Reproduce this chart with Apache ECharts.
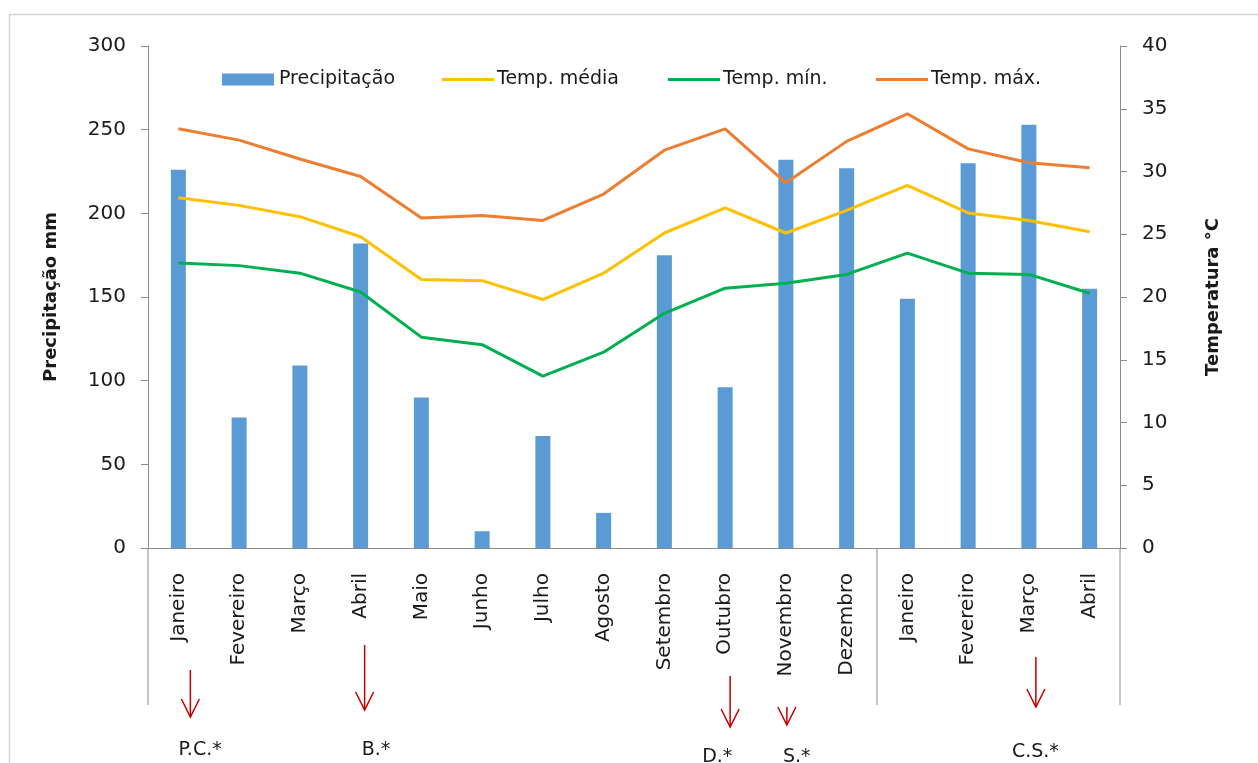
<!DOCTYPE html>
<html><head><meta charset="utf-8">
<script src="https://cdn.jsdelivr.net/npm/echarts@6/dist/echarts.min.js"></script>
<style>html,body{margin:0;padding:0;background:#fff}#c{width:1258px;height:763px}</style>
</head><body><div id="c"></div>
<script>
const categories = ['Janeiro','Fevereiro','Março','Abril','Maio','Junho','Julho','Agosto','Setembro','Outubro','Novembro','Dezembro','Janeiro','Fevereiro','Março','Abril'];
const precipitacao = [226, 78, 109, 182, 90, 10, 67, 21, 175, 96, 232, 227, 149, 230, 253, 155];
const tempMedia = [27.9, 27.3, 26.4, 24.8, 21.4, 21.3, 19.8, 21.9, 25.1, 27.1, 25.1, 26.9, 28.9, 26.7, 26.1, 25.2];
const tempMin = [22.7, 22.5, 21.9, 20.4, 16.8, 16.2, 13.7, 15.6, 18.7, 20.7, 21.1, 21.8, 23.5, 21.9, 21.8, 20.3];
const tempMax = [33.4, 32.5, 31.0, 29.6, 26.3, 26.5, 26.1, 28.2, 31.7, 33.4, 29.1, 32.4, 34.6, 31.8, 30.7, 30.3];
const precipTicks = [0, 300, 50];
const tempTicks = [0, 40, 5];
const annotCategoryIndex = [0, 3, 9, 10, 14];
const annotLabels = ['P.C.*', 'B.*', 'D.*', 'S.*', 'C.S.*'];

const FONT = 'DejaVu Sans';
const TXT = '#1a1a1a';
const AX = '#8c8c8c';
const chart = echarts.init(document.getElementById('c'));

function lineLegend(name, left) {
  return { data: [{ name: name, icon: 'rect' }], left: left, top: 65, itemWidth: 52, itemHeight: 3,
    textStyle: { fontFamily: FONT, fontSize: 19, color: TXT, padding: [0, 0, 0, -2] } };
}
chart.setOption({
  animation: false,
  backgroundColor: '#fff',
  grid: { left: 148, right: 138, top: 46, bottom: 215 },
  legend: [
    { data: [{ name: 'Precipitação', icon: 'rect' }], left: 217, top: 65, itemWidth: 52, itemHeight: 12,
      textStyle: { fontFamily: FONT, fontSize: 19, color: TXT, padding: [0, 0, 0, 0] } },
    lineLegend('Temp. média', 437),
    lineLegend('Temp. mín.', 663),
    lineLegend('Temp. máx.', 871)
  ],
  xAxis: {
    type: 'category', data: categories, boundaryGap: true,
    axisLine: { lineStyle: { color: AX, width: 1 } },
    axisTick: { show: false },
    axisLabel: { rotate: 90, margin: 25, fontFamily: FONT, fontSize: 20, color: TXT, interval: 0 }
  },
  yAxis: [
    { type: 'value', min: precipTicks[0], max: precipTicks[1], interval: precipTicks[2],
      name: 'Precipitação mm', nameLocation: 'middle', nameGap: 88, nameRotate: 90,
      nameTextStyle: { fontFamily: FONT, fontSize: 18, fontWeight: 'bold', color: TXT },
      axisLine: { show: true, lineStyle: { color: AX } },
      axisTick: { show: true, length: 7, lineStyle: { color: AX } },
      axisLabel: { fontFamily: FONT, fontSize: 20, color: TXT, margin: 22 },
      splitLine: { show: false } },
    { type: 'value', min: tempTicks[0], max: tempTicks[1], interval: tempTicks[2],
      name: 'Temperatura °C', nameLocation: 'middle', nameGap: 84, nameRotate: 90,
      nameTextStyle: { fontFamily: FONT, fontSize: 18, fontWeight: 'bold', color: TXT },
      axisLine: { show: true, lineStyle: { color: AX } },
      axisTick: { show: true, length: 7, lineStyle: { color: AX } },
      axisLabel: { fontFamily: FONT, fontSize: 20, color: TXT, margin: 22 },
      splitLine: { show: false } }
  ],
  series: [
    { name: 'Precipitação', type: 'bar', data: precipitacao, barWidth: 15, yAxisIndex: 0,
      itemStyle: { color: '#5B9BD5' } },
    { name: 'Temp. média', type: 'line', data: tempMedia, yAxisIndex: 1, symbol: 'none',
      lineStyle: { color: '#FFC000', width: 3 }, itemStyle: { color: '#FFC000' } },
    { name: 'Temp. mín.', type: 'line', data: tempMin, yAxisIndex: 1, symbol: 'none',
      lineStyle: { color: '#00B050', width: 3 }, itemStyle: { color: '#00B050' } },
    { name: 'Temp. máx.', type: 'line', data: tempMax, yAxisIndex: 1, symbol: 'none',
      lineStyle: { color: '#ED7D31', width: 3 }, itemStyle: { color: '#ED7D31' } }
  ]
});

// Decorations computed from the axes
const x0 = chart.convertToPixel({ xAxisIndex: 0 }, 0);
const x1 = chart.convertToPixel({ xAxisIndex: 0 }, 1);
const band = x1 - x0;
const xLeft = x0 - band / 2;
const xRight = chart.convertToPixel({ xAxisIndex: 0 }, categories.length - 1) + band / 2;
const xDiv = chart.convertToPixel({ xAxisIndex: 0 }, 11) + band / 2;
const yZero = chart.convertToPixel({ yAxisIndex: 0 }, 0);
const yBottom = 705;

const arrowGeom = [ // [dx from category center, yStart, yEnd, label dx, label y]
  [12, 670, 717, 0, 750],
  [4, 645, 710, 1, 750],
  [5, 676, 727, -23, 757],
  [1, 707, 725, -3, 757],
  [7, 657, 707, -17, 752]
];
const red = '#C00000';
const graphics = [
  { type: 'rect', shape: { x: 9.5, y: 14.5, width: 1262, height: 800 }, style: { fill: null, stroke: '#d4d4d4', lineWidth: 1.5 }, silent: true, z: -10 },
  { type: 'line', shape: { x1: xLeft, y1: yZero, x2: xLeft, y2: yBottom }, style: { stroke: AX, lineWidth: 1 } },
  { type: 'line', shape: { x1: xDiv, y1: yZero, x2: xDiv, y2: yBottom }, style: { stroke: AX, lineWidth: 1 } },
  { type: 'line', shape: { x1: xRight, y1: yZero, x2: xRight, y2: yBottom }, style: { stroke: AX, lineWidth: 1 } }
];
annotCategoryIndex.forEach((ci, k) => {
  const cx = chart.convertToPixel({ xAxisIndex: 0 }, ci);
  const g = arrowGeom[k];
  const ax = cx + g[0];
  graphics.push({ type: 'line', shape: { x1: ax, y1: g[1], x2: ax, y2: g[2] }, style: { stroke: red, lineWidth: 1.5 } });
  graphics.push({ type: 'polyline', shape: { points: [[ax - 9, g[2] - 18], [ax, g[2]], [ax + 9, g[2] - 18]] }, style: { stroke: red, lineWidth: 1.5, fill: null } });
  graphics.push({ type: 'text', style: { x: cx + g[3], y: g[4], text: annotLabels[k], font: '19px "' + FONT + '"', fill: TXT, verticalAlign: 'middle', textVerticalAlign: 'middle' } });
});
chart.setOption({ graphic: graphics });
</script></body></html>
